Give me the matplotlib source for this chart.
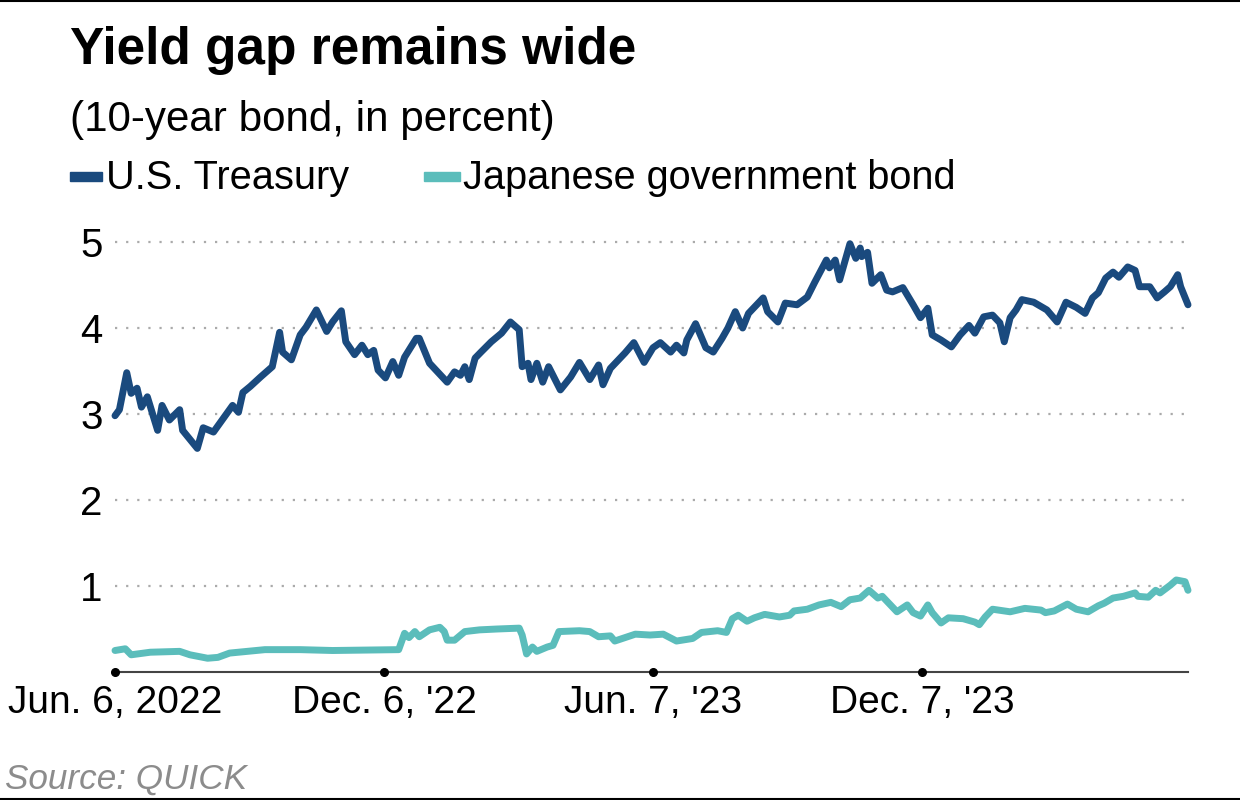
import matplotlib
matplotlib.use('Agg')
import matplotlib.pyplot as plt
from matplotlib.patches import Rectangle
from matplotlib.lines import Line2D
import pandas as pd

plt.rcParams['font.family'] = ['Liberation Sans', 'DejaVu Sans']

# 10-year U.S. Treasury yield (%)
us_dates = [
    '2022-06-06', '2022-06-09', '2022-06-14', '2022-06-17', '2022-06-21', '2022-06-24',
    '2022-06-28', '2022-07-05', '2022-07-08', '2022-07-13', '2022-07-20', '2022-07-22',
    '2022-08-01', '2022-08-05', '2022-08-12', '2022-08-25', '2022-08-29', '2022-09-01',
    '2022-09-06', '2022-09-13', '2022-09-21', '2022-09-26', '2022-09-28', '2022-10-04',
    '2022-10-10', '2022-10-14', '2022-10-21', '2022-10-28', '2022-11-01', '2022-11-07',
    '2022-11-10', '2022-11-16', '2022-11-21', '2022-11-25', '2022-11-29', '2022-12-02',
    '2022-12-07', '2022-12-12', '2022-12-16', '2022-12-20', '2022-12-28', '2022-12-30',
    '2023-01-06', '2023-01-12', '2023-01-18', '2023-01-23', '2023-01-27', '2023-01-30',
    '2023-02-02', '2023-02-06', '2023-02-10', '2023-02-17', '2023-02-24', '2023-03-02',
    '2023-03-08', '2023-03-10', '2023-03-14', '2023-03-16', '2023-03-20', '2023-03-24',
    '2023-03-28', '2023-04-05', '2023-04-12', '2023-04-18', '2023-04-25', '2023-05-01',
    '2023-05-04', '2023-05-09', '2023-05-19', '2023-05-25', '2023-06-01', '2023-06-07',
    '2023-06-12', '2023-06-19', '2023-06-23', '2023-06-28', '2023-06-30', '2023-07-06',
    '2023-07-13', '2023-07-18', '2023-07-24', '2023-07-28', '2023-08-02', '2023-08-07',
    '2023-08-11', '2023-08-21', '2023-08-24', '2023-08-31', '2023-09-05', '2023-09-13',
    '2023-09-20', '2023-09-25', '2023-10-03', '2023-10-05', '2023-10-09', '2023-10-12',
    '2023-10-19', '2023-10-23', '2023-10-26', '2023-10-27', '2023-10-31', '2023-11-03',
    '2023-11-09', '2023-11-13', '2023-11-17', '2023-11-24', '2023-12-01', '2023-12-06',
    '2023-12-11', '2023-12-14', '2023-12-20', '2023-12-27', '2024-01-02', '2024-01-08',
    '2024-01-12', '2024-01-18', '2024-01-24', '2024-01-29', '2024-02-01', '2024-02-05',
    '2024-02-09', '2024-02-13', '2024-02-21', '2024-03-01', '2024-03-08', '2024-03-14',
    '2024-03-21', '2024-03-27', '2024-04-01', '2024-04-05', '2024-04-10', '2024-04-15',
    '2024-04-19', '2024-04-25', '2024-04-30', '2024-05-03', '2024-05-10', '2024-05-15',
    '2024-05-20', '2024-05-24', '2024-05-29', '2024-05-31', '2024-06-05',
]
us_yield = [
    2.98, 3.05, 3.48, 3.24, 3.30, 3.08,
    3.20, 2.81, 3.10, 2.93, 3.05, 2.81,
    2.60, 2.84, 2.79, 3.10, 3.02, 3.25,
    3.32, 3.43, 3.55, 3.95, 3.72, 3.63,
    3.92, 4.01, 4.21, 3.96, 4.07, 4.20,
    3.84, 3.69, 3.80, 3.69, 3.74, 3.51,
    3.42, 3.61, 3.45, 3.66, 3.88, 3.88,
    3.59, 3.48, 3.37, 3.49, 3.45, 3.55,
    3.40, 3.65, 3.72, 3.84, 3.94, 4.07,
    3.98, 3.55, 3.59, 3.40, 3.59, 3.37,
    3.55, 3.28, 3.43, 3.60, 3.40, 3.57,
    3.34, 3.53, 3.71, 3.83, 3.60, 3.77,
    3.83, 3.72, 3.80, 3.71, 3.86, 4.05,
    3.77, 3.72, 3.88, 4.00, 4.19, 4.00,
    4.17, 4.35, 4.19, 4.07, 4.29, 4.27,
    4.36, 4.53, 4.79, 4.70, 4.79, 4.56,
    4.98, 4.81, 4.93, 4.83, 4.88, 4.52,
    4.62, 4.44, 4.42, 4.47, 4.27, 4.12,
    4.23, 3.92, 3.86, 3.78, 3.92, 4.03,
    3.94, 4.13, 4.15, 4.06, 3.84, 4.12,
    4.21, 4.33, 4.30, 4.21, 4.07, 4.30,
    4.24, 4.17, 4.35, 4.41, 4.58, 4.65,
    4.59, 4.71, 4.67, 4.48, 4.48, 4.35,
    4.42, 4.48, 4.62, 4.48, 4.27,
]

# 10-year Japanese government bond yield (%)
jgb_dates = [
    '2022-06-06', '2022-06-13', '2022-06-17', '2022-06-30', '2022-07-20', '2022-07-27',
    '2022-08-08', '2022-08-15', '2022-08-23', '2022-09-16', '2022-10-10', '2022-11-01',
    '2022-12-16', '2022-12-20', '2022-12-23', '2022-12-27', '2022-12-30', '2023-01-06',
    '2023-01-13', '2023-01-16', '2023-01-18', '2023-01-23', '2023-01-30', '2023-02-09',
    '2023-02-21', '2023-03-08', '2023-03-10', '2023-03-13', '2023-03-17', '2023-03-20',
    '2023-03-27', '2023-03-31', '2023-04-04', '2023-04-18', '2023-04-25', '2023-05-01',
    '2023-05-09', '2023-05-12', '2023-05-19', '2023-05-26', '2023-06-05', '2023-06-14',
    '2023-06-23', '2023-07-04', '2023-07-10', '2023-07-21', '2023-07-27', '2023-07-31',
    '2023-08-04', '2023-08-10', '2023-08-15', '2023-08-22', '2023-09-01', '2023-09-08',
    '2023-09-11', '2023-09-20', '2023-09-28', '2023-10-06', '2023-10-13', '2023-10-19',
    '2023-10-26', '2023-11-01', '2023-11-07', '2023-11-10', '2023-11-20', '2023-11-27',
    '2023-12-01', '2023-12-06', '2023-12-11', '2023-12-14', '2023-12-20', '2023-12-25',
    '2024-01-04', '2024-01-12', '2024-01-15', '2024-01-19', '2024-01-24', '2024-02-05',
    '2024-02-15', '2024-02-26', '2024-02-29', '2024-03-06', '2024-03-15', '2024-03-21',
    '2024-03-29', '2024-04-05', '2024-04-09', '2024-04-15', '2024-04-22', '2024-04-30',
    '2024-05-02', '2024-05-09', '2024-05-14', '2024-05-17', '2024-05-24', '2024-05-28',
    '2024-06-03', '2024-06-05',
]
jgb_yield = [
    0.25, 0.27, 0.20, 0.23, 0.24, 0.20,
    0.16, 0.17, 0.22, 0.26, 0.26, 0.25,
    0.26, 0.45, 0.40, 0.47, 0.41, 0.49,
    0.52, 0.47, 0.37, 0.37, 0.47, 0.49,
    0.50, 0.51, 0.43, 0.21, 0.29, 0.24,
    0.29, 0.31, 0.47, 0.48, 0.47, 0.41,
    0.42, 0.36, 0.40, 0.44, 0.43, 0.44,
    0.36, 0.39, 0.46, 0.48, 0.46, 0.62,
    0.66, 0.59, 0.63, 0.67, 0.64, 0.66,
    0.71, 0.73, 0.78, 0.81, 0.76, 0.84,
    0.86, 0.95, 0.86, 0.88, 0.70, 0.78,
    0.69, 0.65, 0.78, 0.69, 0.57, 0.63,
    0.62, 0.58, 0.55, 0.64, 0.73, 0.70,
    0.74, 0.72, 0.69, 0.71, 0.79, 0.73,
    0.70, 0.77, 0.80, 0.86, 0.88, 0.92,
    0.88, 0.87, 0.95, 0.92, 1.01, 1.07,
    1.05, 0.95,
]

tick_dates = ['2022-06-06', '2022-12-06', '2023-06-07', '2023-12-07']
tick_labels = ['Jun. 6, 2022', "Dec. 6, '22", "Jun. 7, '23", "Dec. 7, '23"]
y_ticks = [1, 2, 3, 4, 5]
x_range = ['2022-06-06', '2024-06-05']

US_COLOR = '#1a4a7e'
JGB_COLOR = '#5bbdbb'

W, H = 1240, 800
fig = plt.figure(figsize=(W / 100, H / 100), dpi=100)
ax = fig.add_axes([115 / W, 1 - 672 / H, (1188 - 115) / W, 447.2 / H])

ax.plot(pd.to_datetime(jgb_dates), jgb_yield, color=JGB_COLOR, lw=5,
        solid_joinstyle='round', solid_capstyle='round', clip_on=False, zorder=3)
ax.plot(pd.to_datetime(us_dates), us_yield, color=US_COLOR, lw=5,
        solid_joinstyle='round', solid_capstyle='round', clip_on=False, zorder=3)

ax.set_xlim(pd.to_datetime(x_range[0]), pd.to_datetime(x_range[1]))
ax.set_ylim(0, 5.2)

ax.set_yticks(y_ticks)
ax.set_yticklabels([str(v) for v in y_ticks])
ax.yaxis.grid(True, linestyle=(0, (1, 4)), color='#aaaaaa', linewidth=1.6)
ax.set_axisbelow(True)

ax.set_xticks(pd.to_datetime(tick_dates))
ax.set_xticklabels(tick_labels)
ax.tick_params(axis='y', length=0, labelsize=29, pad=9)
ax.tick_params(axis='x', length=0, labelsize=28, pad=9)

for s in ['top', 'right', 'left']:
    ax.spines[s].set_visible(False)
ax.spines['bottom'].set_color('#444444')
ax.spines['bottom'].set_linewidth(1.5)

# dots on the axis at each tick
ax.plot(pd.to_datetime(tick_dates), [0] * len(tick_dates), 'o', color='black',
        ms=5.5, clip_on=False, zorder=5)

# title, subtitle, legend, source
fig.text(70 / W, 1 - 64 / H, 'Yield gap remains wide', fontsize=37,
         fontweight='bold', va='baseline', ha='left')
fig.text(70 / W, 1 - 131 / H, '(10-year bond, in percent)', fontsize=30.3,
         va='baseline', ha='left')

fig.add_artist(Rectangle((70 / W, 1 - 181 / H), 32 / W, 9 / H,
                         transform=fig.transFigure, color=US_COLOR))
fig.text(106 / W, 1 - 189 / H, 'U.S. Treasury', fontsize=28.6, va='baseline')
fig.add_artist(Rectangle((424 / W, 1 - 181 / H), 36 / W, 9 / H,
                         transform=fig.transFigure, color=JGB_COLOR))
fig.text(463 / W, 1 - 189 / H, 'Japanese government bond', fontsize=28.6,
         va='baseline')

fig.text(5 / W, 1 - 789 / H, 'Source: QUICK', fontsize=25.3, style='italic',
         color='#8c8c8c', va='baseline')

# thin rules at top and bottom
fig.add_artist(Line2D([0, 1], [1 - 1 / H, 1 - 1 / H], color='black', lw=1.5))
fig.add_artist(Line2D([0, 1], [1 - 798.5 / H, 1 - 798.5 / H], color='black', lw=1.5))

fig.savefig('out.png', dpi=100)
